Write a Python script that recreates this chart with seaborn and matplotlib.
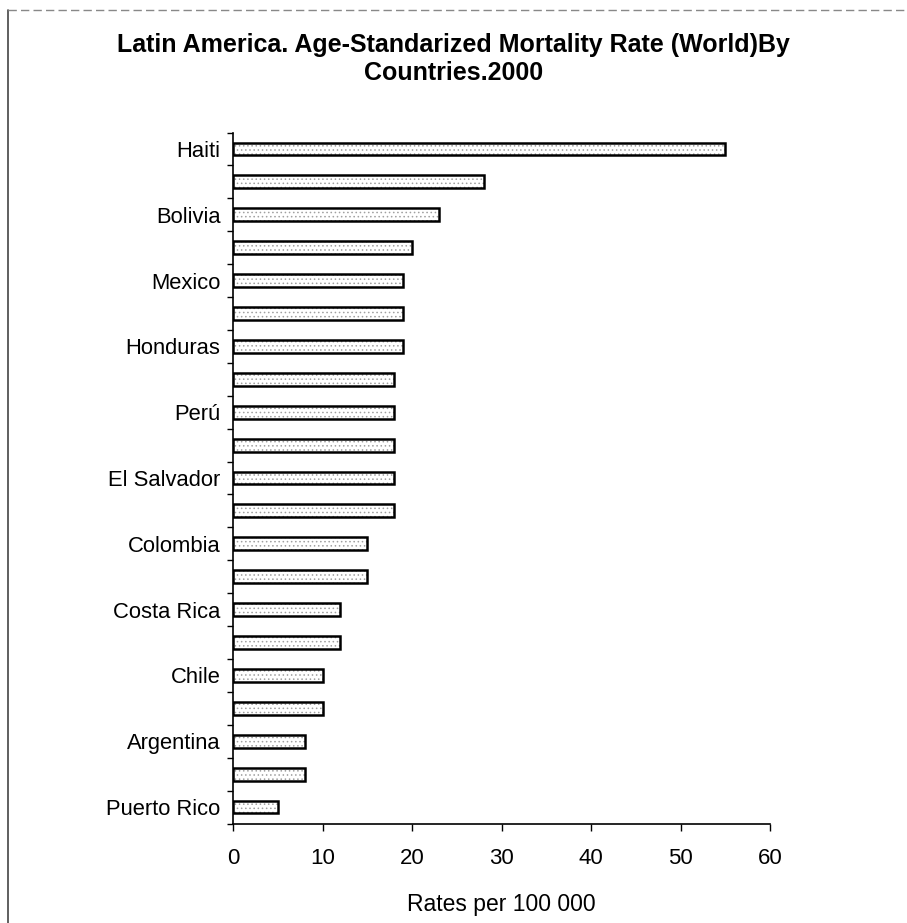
import matplotlib
matplotlib.use("Agg")
import matplotlib.pyplot as plt
from matplotlib.lines import Line2D
import numpy as np
import pandas as pd
import seaborn as sns

# Countries in ranked order (only every other name is printed on the axis)
countries = ["Haiti", "", "Bolivia", "", "Mexico", "", "Honduras", "",
             "Perú", "", "El Salvador", "", "Colombia", "", "Costa Rica", "",
             "Chile", "", "Argentina", "", "Puerto Rico"]
rates = [55, 28, 23, 20, 19, 19, 19, 18, 18, 18, 18, 18,
         15, 15, 12, 12, 10, 10, 8, 8, 5]
x_ticks = [0, 10, 20, 30, 40, 50, 60]

title = "Latin America. Age-Standarized Mortality Rate (World)By\nCountries.2000"
x_label = "Rates per 100 000"

sns.set_theme(style="white")
plt.rcParams["font.family"] = ["Liberation Sans", "DejaVu Sans"]
plt.rcParams["text.color"] = "black"
plt.rcParams["axes.labelcolor"] = "black"
plt.rcParams["xtick.color"] = "black"
plt.rcParams["ytick.color"] = "black"
plt.rcParams["hatch.linewidth"] = 0.6

df = pd.DataFrame({"rank": np.arange(len(rates)), "rate": rates})
order = list(range(len(rates)))

fig = plt.figure(figsize=(9.07, 9.23), dpi=100)
ax = fig.add_axes([233 / 907, 1 - 823.5 / 923, (770 - 233) / 907, (823.5 - 132.5) / 923])

# stippled fill
sns.barplot(data=df, x="rate", y="rank", orient="h", order=order, ax=ax,
            color="white", edgecolor="#a0a0a0", linewidth=0, hatch="....",
            width=0.39, errorbar=None)
# black outline
sns.barplot(data=df, x="rate", y="rank", orient="h", order=order, ax=ax,
            fill=False, edgecolor="black", linewidth=1.8,
            width=0.39, errorbar=None)

ax.set_xlim(0, 60)
ax.set_ylim(len(rates) - 0.5, -0.5)
ax.set_xticks(x_ticks)
ax.set_xticklabels([str(t) for t in x_ticks], fontsize=16)
ax.set_yticks(order)
ax.set_yticklabels(countries, fontsize=15.8)
ax.set_yticks(np.arange(-0.5, len(rates)), minor=True)
ax.tick_params(axis="y", which="major", length=0, pad=9)
ax.tick_params(axis="y", which="minor", length=4, width=1, color="black", direction="out", left=True)
ax.tick_params(axis="x", which="major", length=5, width=1, color="black", direction="out", bottom=True, pad=13)
ax.set_xlabel(x_label, fontsize=16.5, labelpad=17)
ax.set_ylabel("")

for side in ("top", "right"):
    ax.spines[side].set_visible(False)
for side in ("left", "bottom"):
    ax.spines[side].set_color("black")
    ax.spines[side].set_linewidth(1.2)

fig.text(0.5, 1 - 59 / 923, title, ha="center", va="center",
         fontsize=18, fontweight="bold", linespacing=1.2)

# outer frame (left and top edges)
fig.add_artist(Line2D([8 / 907, 8 / 907], [0, 1 - 10 / 923], transform=fig.transFigure,
                      color="#444444", linewidth=1.2))
fig.add_artist(Line2D([8 / 907, 1], [1 - 10 / 923, 1 - 10 / 923], transform=fig.transFigure,
                      color="#888888", linewidth=1.0, linestyle=(0, (6, 3))))

fig.savefig("out.png", dpi=100)
